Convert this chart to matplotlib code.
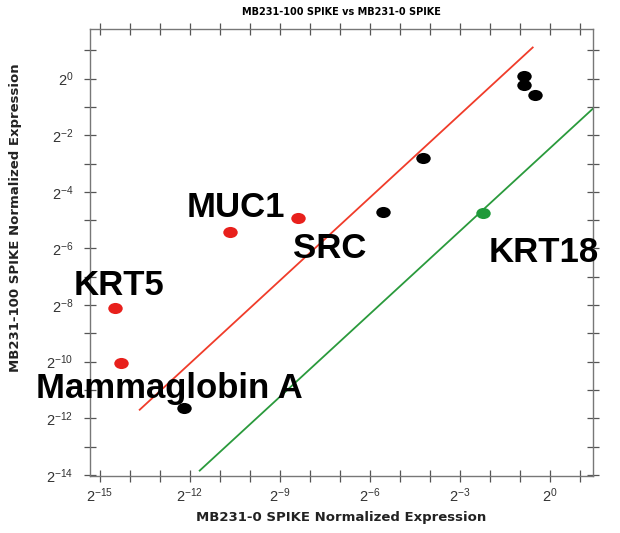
import math
import matplotlib
matplotlib.use("Agg")
import matplotlib.pyplot as plt
from matplotlib.markers import MarkerStyle
from matplotlib.transforms import Affine2D
from matplotlib.ticker import FixedLocator, FuncFormatter, NullFormatter

plt.rcParams['font.family'] = ['Liberation Sans', 'DejaVu Sans']
plt.rcParams['mathtext.fontset'] = 'custom'
plt.rcParams['mathtext.rm'] = 'Liberation Sans'
plt.rcParams['mathtext.it'] = 'Liberation Sans:italic'
plt.rcParams['mathtext.bf'] = 'Liberation Sans:bold'

# log2 expression values
red_x = [-14.5, -14.3, -10.67, -8.4]
red_y = [-8.1, -10.04, -5.41, -4.92]
black_x = [-12.2, -5.57, -4.23, -0.87, -0.87, -0.5]
black_y = [-11.63, -4.71, -2.8, 0.1, -0.22, -0.57]
green_x = [-2.23]
green_y = [-4.74]

# fold-change guide lines (log2 endpoints)
red_line_x = [-13.67, -0.57]
red_line_y = [-11.7, 1.1]
green_line_x = [-11.67, 1.5]
green_line_y = [-13.85, -1.0]

labels = ["MUC1", "SRC", "KRT5", "KRT18", "Mammaglobin A"]
label_x = [-10.47, -7.33, -14.37, -0.2, -12.67]
label_y = [-4.88, -6.33, -7.64, -6.47, -11.28]

p2 = lambda v: [2.0 ** a for a in v]

fig = plt.figure(figsize=(6.2, 5.33), dpi=100)
ax = fig.add_axes([0.145, 0.107, 0.811, 0.839])
ax.set_xscale('log', base=2)
ax.set_yscale('log', base=2)

ax.plot(p2(red_line_x), p2(red_line_y), color='#f03c2a', lw=1.3)
ax.plot(p2(green_line_x), p2(green_line_y), color='#2a9a3c', lw=1.3)

dot = MarkerStyle('o', transform=Affine2D().scale(1.3, 1.0))
ax.plot(p2(red_x), p2(red_y), ls='none', marker=dot, color='#e8201c', ms=8, mec='none')
ax.plot(p2(black_x), p2(black_y), ls='none', marker=dot, color='black', ms=8, mec='none')
ax.plot(p2(green_x), p2(green_y), ls='none', marker=dot, color='#1f9a3a', ms=8, mec='none')

for t, x, y in zip(labels, label_x, label_y):
    ax.text(2.0 ** x, 2.0 ** y, t, fontsize=25, fontweight='bold',
            ha='center', va='baseline', color='black')

ax.set_xlim(2.0 ** -15.33, 2.0 ** 1.43)
ax.set_ylim(2.0 ** -14.04, 2.0 ** 1.76)

fmt = FuncFormatter(lambda v, p: r'$2^{%d}$' % round(math.log2(v)))
ax.xaxis.set_major_locator(FixedLocator(p2(range(-15, 1, 3))))
ax.xaxis.set_minor_locator(FixedLocator(p2(range(-15, 2))))
ax.yaxis.set_major_locator(FixedLocator(p2(range(-14, 1, 2))))
ax.yaxis.set_minor_locator(FixedLocator(p2(range(-14, 2))))
ax.xaxis.set_major_formatter(fmt)
ax.yaxis.set_major_formatter(fmt)
ax.xaxis.set_minor_formatter(NullFormatter())
ax.yaxis.set_minor_formatter(NullFormatter())

ax.tick_params(which='both', direction='inout', top=True, right=True,
               color='#555555', labelcolor='#333333', labelsize=10.5,
               length=8, width=0.9)
ax.tick_params(axis='y', which='both', pad=8)
for s in ax.spines.values():
    s.set_color('#777777')
    s.set_linewidth(1.0)

ax.set_title("MB231-100 SPIKE vs MB231-0 SPIKE", fontsize=7, fontweight='bold',
             family='DejaVu Sans', pad=10)
ax.set_xlabel("MB231-0 SPIKE Normalized Expression", fontsize=9.5, fontweight='bold',
              family='DejaVu Sans', color='#222222')
ax.set_ylabel("MB231-100 SPIKE Normalized Expression", fontsize=9.5, fontweight='bold',
              family='DejaVu Sans', color='#222222')
ax.yaxis.set_label_coords(-0.135, 0.577)

fig.savefig("out.png", dpi=100)
